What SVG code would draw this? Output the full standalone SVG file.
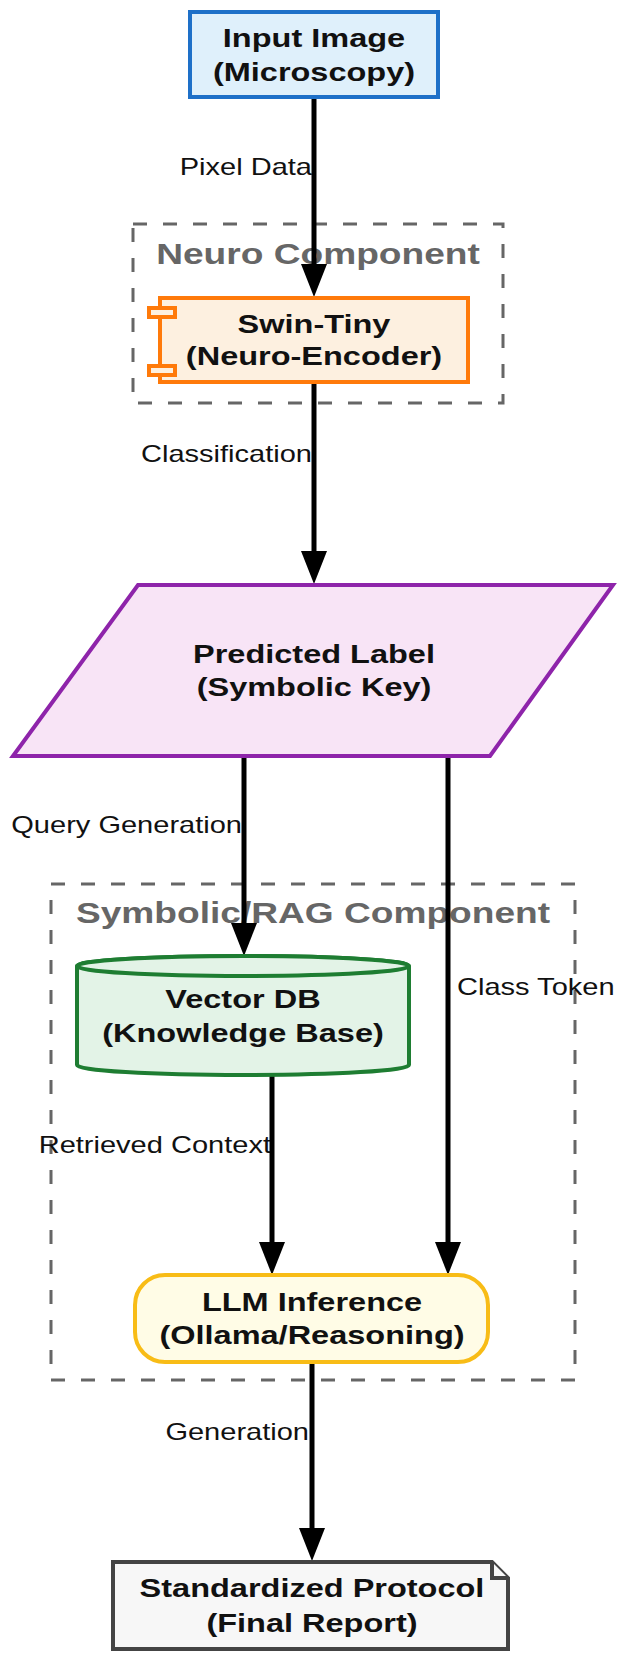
<svg xmlns="http://www.w3.org/2000/svg" width="624" height="1664" viewBox="0 0 624 1664">
  <defs>
    <marker id="arrow" markerUnits="userSpaceOnUse" markerWidth="34" markerHeight="26" refX="0" refY="13" orient="auto">
      <path d="M0,0 L33,13 L0,26 Z" fill="#000"/>
    </marker>
    <style>
      .cluster { fill: none; stroke: #666; stroke-width: 3; stroke-dasharray: 14 16; }
      .ctitle { font-family: "Liberation Sans", Arial, sans-serif; font-weight: bold; font-size: 29px; fill: #666; text-anchor: middle; }
      .ntext { font-family: "Liberation Sans", Arial, sans-serif; font-weight: bold; font-size: 25px; fill: #111; text-anchor: middle; }
      .elabel { font-family: "Liberation Sans", Arial, sans-serif; font-size: 24px; fill: #111; }
      .edge { fill: none; stroke: #000; stroke-width: 5; marker-end: url(#arrow); }
      .input { fill: #DFF0FB; stroke: #1E70C8; stroke-width: 4; }
      .encoder { fill: #FDF0E0; stroke: #FF7A0A; stroke-width: 4; }
      .label { fill: #F8E4F6; stroke: #8E24AA; stroke-width: 4; }
      .db { fill: #E3F3E7; stroke: #1E7D32; stroke-width: 4; }
      .llm { fill: #FFFCE6; stroke: #F8BC16; stroke-width: 4; }
      .doc { fill: #F7F7F7; stroke: #444; stroke-width: 4; }
    </style>
  </defs>

  <!-- clusters -->
  <g id="cluster-neuro">
    <rect class="cluster" x="133" y="224" width="370" height="179"/>
    <text class="ctitle" transform="translate(318,264) scale(1.28,1)">Neuro Component</text>
  </g>
  <g id="cluster-symbolic">
    <rect class="cluster" x="51" y="884" width="524" height="496"/>
    <text class="ctitle" transform="translate(313,923) scale(1.28,1)">Symbolic/RAG Component</text>
  </g>

  <!-- connectors -->
  <g id="connectors">
    <text class="elabel" text-anchor="end" transform="translate(312,175) scale(1.21,1)">Pixel Data</text>
    <text class="elabel" text-anchor="end" transform="translate(312,462) scale(1.21,1)">Classification</text>
    <text class="elabel" text-anchor="end" transform="translate(242,833) scale(1.21,1)">Query Generation</text>
    <text class="elabel" text-anchor="start" transform="translate(457,995) scale(1.21,1)">Class Token</text>
    <text class="elabel" text-anchor="end" transform="translate(271,1153) scale(1.21,1)">Retrieved Context</text>
    <text class="elabel" text-anchor="end" transform="translate(309,1440) scale(1.21,1)">Generation</text>
    <path class="edge" d="M314,98 V264"/>
    <path class="edge" d="M314,382 V551"/>
    <path class="edge" d="M244,756 V923"/>
    <path class="edge" d="M448,756 V1242"/>
    <path class="edge" d="M272,1075 V1242"/>
    <path class="edge" d="M312,1362 V1528"/>
  </g>

  <!-- nodes -->
  <g id="input-image">
    <rect class="input" x="190" y="12" width="248" height="85"/>
    <text class="ntext" transform="translate(314,47) scale(1.3,1)">Input Image</text>
    <text class="ntext" transform="translate(314,81) scale(1.3,1)">(Microscopy)</text>
  </g>

  <g id="swin-tiny">
    <rect class="encoder" x="160" y="298" width="308" height="84"/>
    <rect class="encoder" x="149" y="308" width="26" height="9" stroke-width="3"/>
    <rect class="encoder" x="149" y="366" width="26" height="9" stroke-width="3"/>
    <text class="ntext" transform="translate(314,333) scale(1.3,1)">Swin-Tiny</text>
    <text class="ntext" transform="translate(314,365) scale(1.3,1)">(Neuro-Encoder)</text>
  </g>

  <g id="predicted-label">
    <polygon class="label" points="138,585 613,585 490,756 13,756"/>
    <text class="ntext" transform="translate(314,663) scale(1.3,1)">Predicted Label</text>
    <text class="ntext" transform="translate(314,696) scale(1.3,1)">(Symbolic Key)</text>
  </g>

  <g id="vector-db">
    <path class="db" d="M77,966 V1065 A166,10 0 0 0 409,1065 V966 A166,10 0 0 0 77,966 Z"/>
    <ellipse class="db" cx="243" cy="966" rx="166" ry="10"/>
    <text class="ntext" transform="translate(243,1008) scale(1.3,1)">Vector DB</text>
    <text class="ntext" transform="translate(243,1042) scale(1.3,1)">(Knowledge Base)</text>
  </g>

  <g id="llm-inference">
    <rect class="llm" x="135" y="1275" width="353" height="87" rx="30" ry="30"/>
    <text class="ntext" transform="translate(312,1311) scale(1.3,1)">LLM Inference</text>
    <text class="ntext" transform="translate(312,1344) scale(1.3,1)">(Ollama/Reasoning)</text>
  </g>

  <g id="final-report">
    <path class="doc" d="M113,1562 H492 L508,1578 V1649 H113 Z"/>
    <path class="doc" d="M492,1562 V1578 H508" fill="none"/>
    <text class="ntext" transform="translate(312,1597) scale(1.3,1)">Standardized Protocol</text>
    <text class="ntext" transform="translate(312,1632) scale(1.3,1)">(Final Report)</text>
  </g>
</svg>
